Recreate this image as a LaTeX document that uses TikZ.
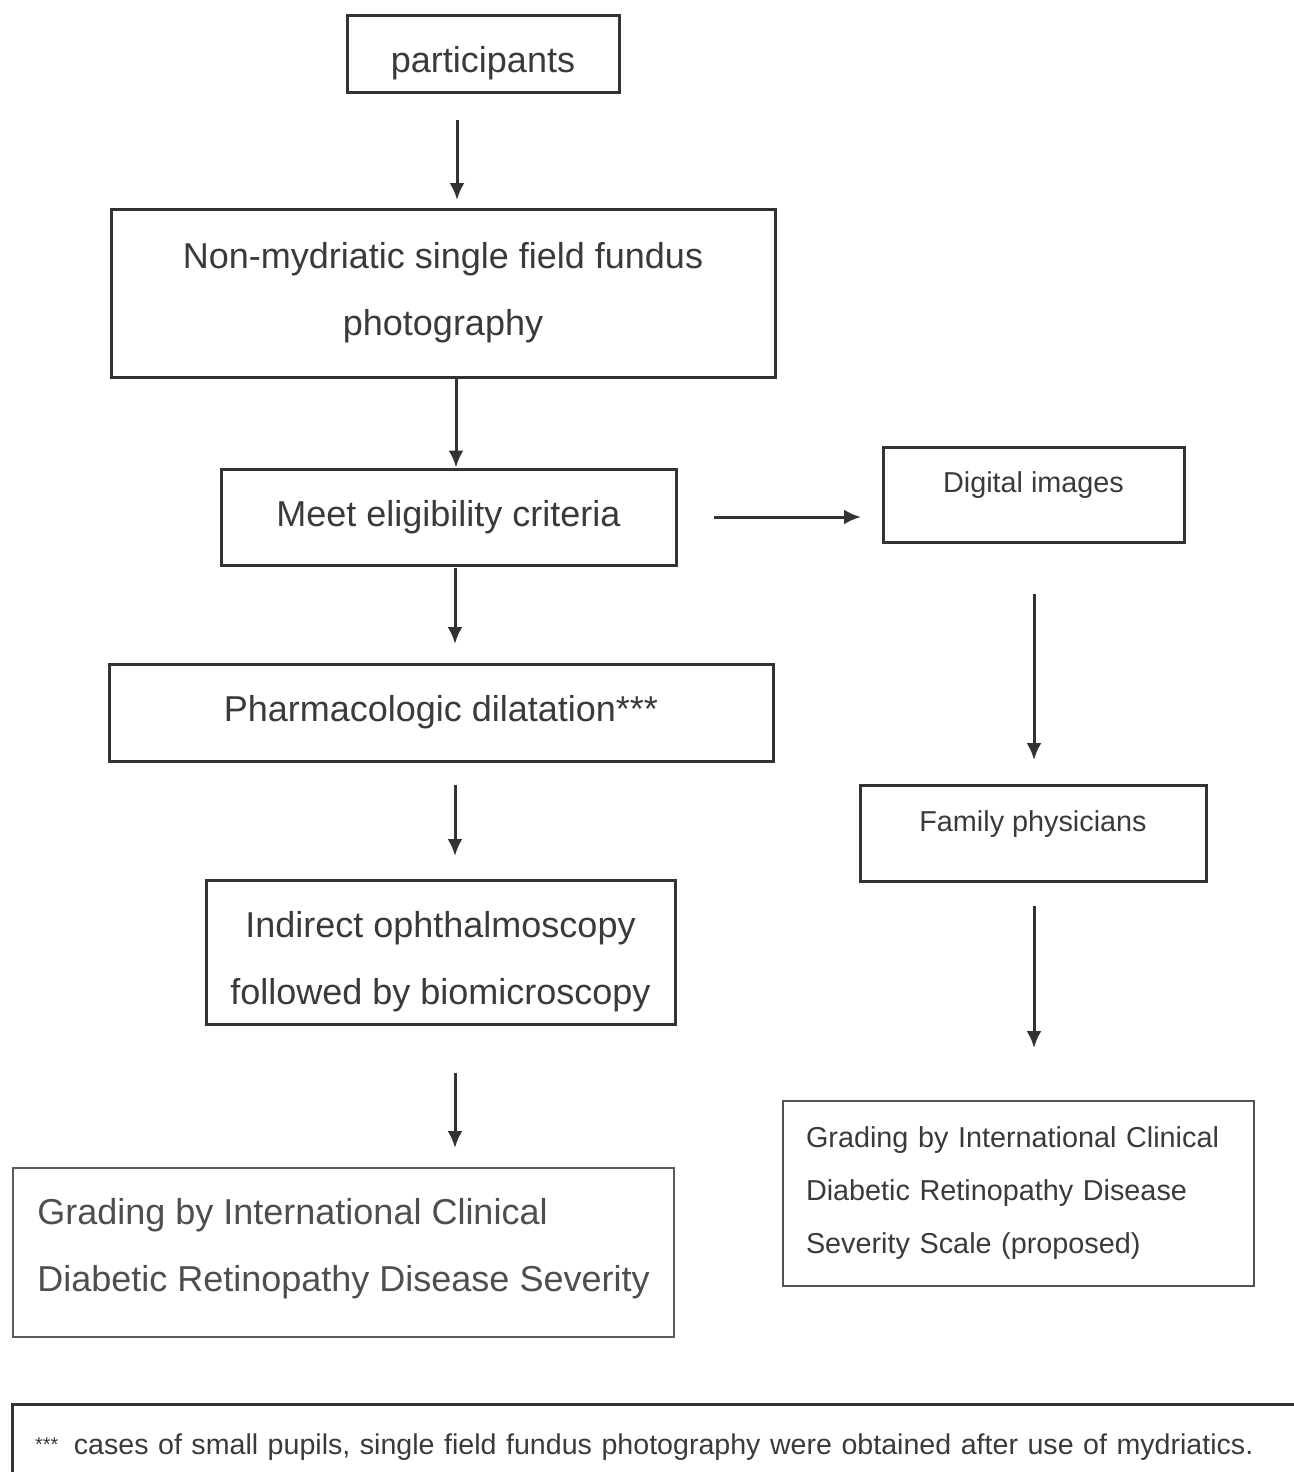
\documentclass[tikz,border=0pt]{standalone}
\usepackage{fontspec}
\setmainfont{Liberation Sans}
\usetikzlibrary{arrows.meta}
\definecolor{ink}{HTML}{333333}
\definecolor{txt}{HTML}{3A3A3A}
\newcommand{\pushdown}{\rule{0pt}{23pt}}
\newcommand{\liftup}{\rule[-8pt]{0pt}{0pt}}
\begin{document}
\begin{tikzpicture}[x=0.5pt,y=-0.5pt,
  box/.style={draw=ink,line width=1.5pt,rectangle,inner sep=0pt,text=txt,align=center},
  bigtext/.style={font=\fontsize{18}{33.5}\selectfont},
  smalltext/.style={font=\fontsize{14.4}{26.5}\selectfont},
  arr/.style={draw=ink,line width=1.5pt,-{Latex[length=8.5pt,width=7.5pt]}}]
\useasboundingbox (0,0) rectangle (1294,1472);
\node[box,bigtext,minimum width=136pt,minimum height=38.5pt] (part) at (483,53.5) {\pushdown participants};
\node[box,bigtext,minimum width=332pt,minimum height=84pt] (nonmyd) at (443,293) {Non-mydriatic single field fundus\\photography};
\node[box,bigtext,minimum width=227.5pt,minimum height=48pt] (meet) at (448.5,517) {Meet eligibility criteria};
\node[box,smalltext,minimum width=150.5pt,minimum height=47.5pt,text height=10pt,text depth=12pt] (digital) at (1033.5,494.5) {Digital images};
\node[box,bigtext,minimum width=332pt,minimum height=48.5pt] (pharm) at (441,712.5) {Pharmacologic dilatation***};
\node[box,smalltext,minimum width=173pt,minimum height=48pt,text height=10pt,text depth=12pt] (family) at (1033,833) {Family physicians};
\node[box,bigtext,minimum width=234.5pt,minimum height=72pt] (indirect) at (440.5,952) {\pushdown Indirect ophthalmoscopy\\followed by biomicroscopy};
\node[box,bigtext,draw=ink!80,line width=0.8pt,minimum width=330.5pt,minimum height=84.5pt,align=left,text=txt!90] (gradeL) at (343.5,1252.5) {Grading by International Clinical\\Diabetic Retinopathy Disease Severity\liftup};
\node[box,smalltext,draw=ink!85,line width=1pt,minimum width=235.5pt,minimum height=92.5pt,text width=212.5pt,align=left] (gradeR) at (1018.5,1193.5) {Grading by International Clinical\\Diabetic Retinopathy Disease\\Severity Scale (proposed)};
\node[box,font=\fontsize{14.3}{16}\selectfont,minimum width=659pt,minimum height=48pt,text width=636pt,align=left,text height=10pt,text depth=8pt] (note) at (671,1452) {\raisebox{1.5pt}{\fontsize{10}{10}\selectfont***}\hspace{3pt} cases of small pupils, single field fundus photography were obtained after use of mydriatics.};
% arrow end points
\coordinate (a1s) at (457,120); \coordinate (a1e) at (457,200);
\coordinate (a3s) at (455,568); \coordinate (a3e) at (455,644);
\coordinate (a4s) at (714,517); \coordinate (a4e) at (861,517);
\coordinate (a5s) at (1034,594); \coordinate (a5e) at (1034,760);
\coordinate (a6s) at (455,785); \coordinate (a6e) at (455,856);
\coordinate (a7s) at (1034,906); \coordinate (a7e) at (1034,1048);
\coordinate (a8s) at (455,1073); \coordinate (a8e) at (455,1148);
\draw[arr] (a1s) -- (a1e);
\draw[arr] (nonmyd.south -| 456,0) -- (meet.north -| 456,0);
\draw[arr] (a3s) -- (a3e);
\draw[arr] (a4s) -- (a4e);
\draw[arr] (a5s) -- (a5e);
\draw[arr] (a6s) -- (a6e);
\draw[arr] (a7s) -- (a7e);
\draw[arr] (a8s) -- (a8e);
\end{tikzpicture}
\end{document}
